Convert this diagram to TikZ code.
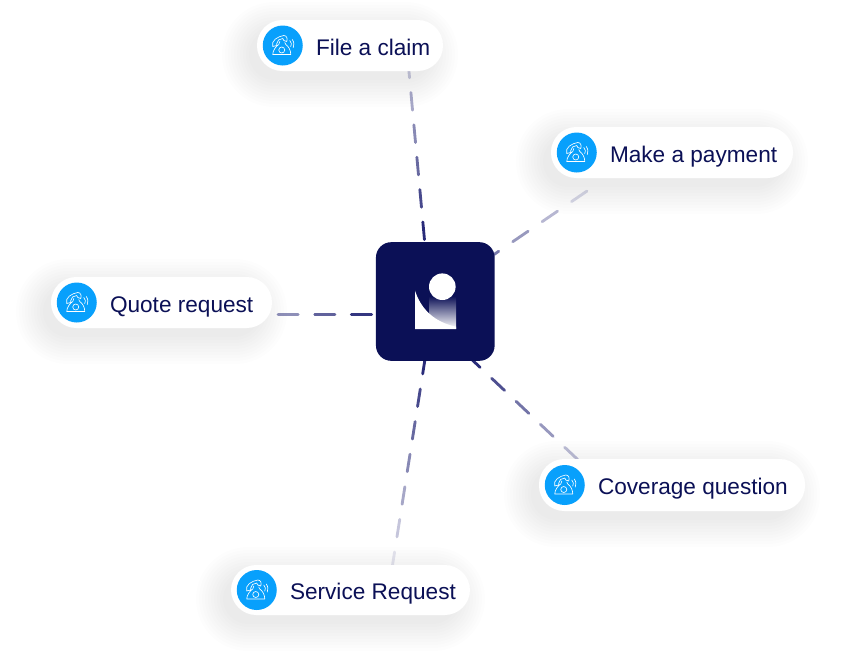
\documentclass[tikz,border=0pt]{standalone}
\usepackage{fontspec}
\setmainfont{Liberation Sans}
\usetikzlibrary{calc}
\definecolor{navy}{HTML}{0B1056}
\definecolor{linkblue}{HTML}{1E2072}
\definecolor{callblue}{HTML}{08A0FC}
\tikzset{
	pill/.style={fill=white,rounded corners=0.76cm,inner sep=0pt},
	iconball/.style={circle,fill=callblue,minimum size=1.2cm,inner sep=0pt},
	pilltext/.style={anchor=base west,inner sep=0pt,text=navy,font=\fontsize{19.3pt}{21pt}\selectfont},
	linkdash/.style={linkblue,line width=0.085cm,line cap=round},
	phone/.pic={
		\draw[white,line width=0.55pt,line join=round,line cap=round]
			(-10,-1) .. controls (-12,5) and (-5,9) .. (1,10) .. controls (4,10) and (5,7) .. (4,4)
			-- (1,5) -- (0,7) .. controls (-3,7) and (-6,5) .. (-6,2) -- (-6,0) -- cycle
			(-4,1) -- (-3,4) (2,3) -- (3,1)
			(-10,-9) -- (8,-9) (-10,-9) .. controls (-10,-5) and (-7,-1) .. (-4,1)
			(8,-9) .. controls (8,-5) and (6,-1) .. (3,1);
		\draw[white,line width=0.55pt] (-1,-4.5) circle [radius=3];
		\draw[white,line width=0.55pt,line cap=round]
			(7,5) .. controls (9,3) and (9,1) .. (8,-1)
			(9.5,6) .. controls (11.5,3) and (11.5,1) .. (10.5,-2);
	}
}
% fading dashes: from, to, last dash, period, dash length, first and last opacity
\newcommand{\fadelink}[7]{
	\foreach \i in {0,...,#3}{
		\pgfmathsetmacro\dA{(\i*#4+0.4)*0.03}
		\pgfmathsetmacro\dB{(\i*#4+#5-0.4)*0.03}
		\pgfmathsetmacro\op{#6+(#7-#6)*\i/#3}
		\draw[linkdash,opacity=\op] ($(#1)!\dA cm!(#2)$) -- ($(#1)!\dB cm!(#2)$);
	}
}
% soft shadow below a pill: left, top, right, bottom
\newcommand{\pillshadow}[4]{
	\foreach \g in {0,3,...,27}{
		\pgfmathsetmacro\rc{(25+\g)*0.03}
		\fill[black,opacity=0.0065,rounded corners=\rc cm]
			(#1-\g-8,#2+\g-9) rectangle (#3+\g-12,#4-\g-9);
	}
}
% pill with icon and text: name, left, top, right, bottom, text
\newcommand{\callpill}[6]{
	\pgfmathsetmacro\pw{(#4-#2)*0.03}
	\pgfmathsetmacro\ph{(#3-#5)*0.03}
	\node[pill,minimum width=\pw cm,minimum height=\ph cm] (#1) at ({(#2+#4)/2},{(#3+#5)/2}) {};
	\node[iconball] (#1icon) at ($(#1.west)+(26,0)$) {};
	\pic at (#1icon) {phone};
	\node[pilltext] (#1text) at ($(#1.west)+(59,-9.5)$) {#6};
}
\begin{document}
\begin{tikzpicture}[x=0.03cm,y=0.03cm]
	\useasboundingbox (0,0) rectangle (844,-670);
	
	\pillshadow{257}{-20}{443}{-71}
	\pillshadow{551}{-127}{793}{-178}
	\pillshadow{51}{-277}{272}{-328}
	\pillshadow{539}{-459}{805}{-511}
	\pillshadow{231}{-565}{470}{-615}
	
	\coordinate (claimA) at (424.5,-240);
	\coordinate (claimB) at (409,-72);
	\coordinate (paymentA) at (483,-262);
	\coordinate (paymentB) at (590,-189);
	\coordinate (quoteA) at (372,-314.7);
	\coordinate (quoteB) at (278,-314.7);
	\coordinate (coverageA) at (467,-355);
	\coordinate (coverageB) at (575,-457);
	\coordinate (serviceA) at (425.5,-356);
	\coordinate (serviceB) at (393,-562);
	
	\fadelink{claimA}{claimB}{5}{32.5}{18.5}{0.95}{0.25}
	\fadelink{paymentA}{paymentB}{3}{35.6}{19.4}{0.6}{0.18}
	\fadelink{quoteA}{quoteB}{2}{36.7}{21}{0.9}{0.5}
	\fadelink{coverageA}{coverageB}{4}{33.5}{18.5}{0.95}{0.3}
	\fadelink{serviceA}{serviceB}{6}{33}{18.5}{0.95}{0.12}
	
	\callpill{claim}{257}{-20}{443}{-71}{File a claim}
	\callpill{payment}{551}{-127}{793}{-178}{Make a payment}
	\callpill{quote}{51}{-277}{272}{-328}{Quote request}
	\callpill{coverage}{539}{-459}{805}{-511}{Coverage question}
	\callpill{service}{231}{-565}{470}{-615}{Service Request}
	
	\node[fill=navy,rounded corners=0.46cm,minimum size=3.56cm,inner sep=0pt] (logo) at (435.3,-301.5) {};
	\shade[top color=navy,bottom color=white] (429,-296) rectangle (456,-328.5);
	\fill[white] (415,-290.7) .. controls (421,-309) and (434,-322) .. (456,-326.7) -- (456,-329) -- (415,-329) -- cycle;
	\fill[white] (442.3,-286.7) circle [radius=13.3];
	
\end{tikzpicture}
\end{document}
